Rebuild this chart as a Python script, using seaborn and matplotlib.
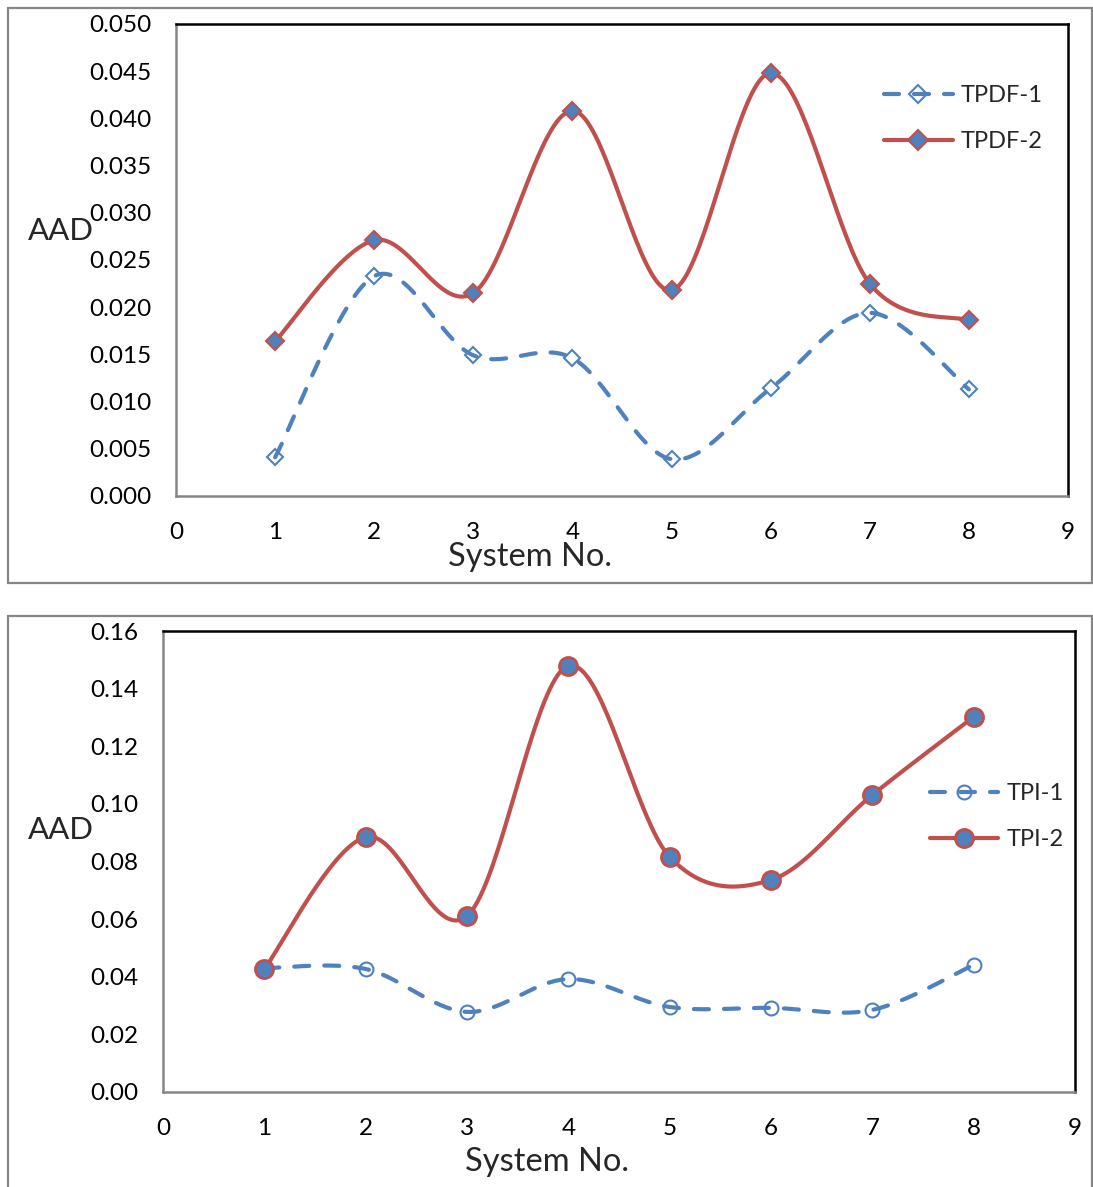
import numpy as np
import pandas as pd
import matplotlib
matplotlib.use("Agg")
import matplotlib.pyplot as plt
from matplotlib.patches import Rectangle
from matplotlib.lines import Line2D
import seaborn as sns

# ---- data ----
systems = [1, 2, 3, 4, 5, 6, 7, 8]
tpdf_1 = [0.0041, 0.0233, 0.0149, 0.0146, 0.0039, 0.0114, 0.0194, 0.0113]
tpdf_2 = [0.0164, 0.0271, 0.0215, 0.0408, 0.0218, 0.0448, 0.0225, 0.0186]
tpi_1 = [0.0430, 0.0427, 0.0278, 0.0392, 0.0295, 0.0292, 0.0285, 0.0441]
tpi_2 = [0.0427, 0.0885, 0.0611, 0.1479, 0.0816, 0.0736, 0.1031, 0.1302]

x_ticks = [0, 1, 2, 3, 4, 5, 6, 7, 8, 9]
top_yticks = [0.000, 0.005, 0.010, 0.015, 0.020, 0.025, 0.030, 0.035, 0.040, 0.045, 0.050]
bot_yticks = [0.00, 0.02, 0.04, 0.06, 0.08, 0.10, 0.12, 0.14, 0.16]

BLUE = "#4F81BD"
RED = "#C0504D"
GRAY = "#868686"
DASH = (0, (3.6, 3.6))

sns.set_theme(style="white")
plt.rcParams["font.family"] = ["Lato", "DejaVu Sans"]


def smooth_curve(xs, ys, n=40):
    """Cubic Bezier smoothing through every point (Catmull-Rom style control points)."""
    p = np.column_stack([xs, ys]).astype(float)
    ext = np.vstack([p[0], p, p[-1]])
    out = []
    t = np.linspace(0, 1, n)[:, None]
    for i in range(len(p) - 1):
        p0, p1, p2, p3 = ext[i], ext[i + 1], ext[i + 2], ext[i + 3]
        c1 = p1 + (p2 - p0) / 6.0
        c2 = p2 - (p3 - p1) / 6.0
        seg = ((1 - t) ** 3) * p1 + 3 * ((1 - t) ** 2) * t * c1 + 3 * (1 - t) * t ** 2 * c2 + t ** 3 * p2
        out.append(seg if i == 0 else seg[1:])
    seg = np.vstack(out)
    return seg[:, 0], seg[:, 1]


def draw_series(ax, ys, color, dashed, marker, msize, face, edge, mew):
    cx, cy = smooth_curve(systems, ys)
    df = pd.DataFrame({"x": cx, "y": cy})
    ls = DASH if dashed else "-"
    sns.lineplot(data=df, x="x", y="y", ax=ax, color=color, lw=3,
                 sort=False, estimator=None, linestyle=ls,
                 dash_capstyle="round", solid_capstyle="round")
    ax.plot(systems, ys, linestyle="none", marker=marker, markersize=msize,
            markerfacecolor=face, markeredgecolor=edge, markeredgewidth=mew, zorder=5)


def style_axes(ax, yticks, fmt):
    ax.set_xlim(0, 9)
    ax.set_ylim(yticks[0], yticks[-1])
    ax.set_xticks(x_ticks)
    ax.set_yticks(yticks)
    ax.set_yticklabels([fmt.format(v) for v in yticks])
    ax.set_xlabel("")
    ax.set_ylabel("")
    ax.grid(False)
    for side in ("left", "bottom"):
        ax.spines[side].set_color(GRAY)
        ax.spines[side].set_linewidth(1.8)
    for side in ("top", "right"):
        ax.spines[side].set_color("black")
        ax.spines[side].set_linewidth(1.8)
    ax.tick_params(axis="both", which="major", direction="out", length=7, width=1.5,
                   color=GRAY, labelsize=17.5, labelcolor="black")
    ax.tick_params(axis="x", pad=12)
    ax.tick_params(axis="y", pad=11)
    ax.set_facecolor("white")


fig = plt.figure(figsize=(10.93, 11.87), dpi=100)
fig.patch.set_facecolor("white")

W, H = 1093.0, 1187.0
# panel frames
fig.add_artist(Rectangle((8 / W, 1 - 583 / H), 1084 / W, 575 / H, transform=fig.transFigure,
                         fill=False, edgecolor=GRAY, lw=1.6))
fig.add_artist(Rectangle((8 / W, -0.01), 1084 / W, 1 - 616 / H + 0.01, transform=fig.transFigure,
                         fill=False, edgecolor=GRAY, lw=1.6))

ax1 = fig.add_axes([176 / W, 1 - 496 / H, (1068 - 176) / W, (496 - 24) / H])
ax2 = fig.add_axes([163 / W, 1 - 1092 / H, (1075 - 163) / W, (1092 - 631) / H])

legend_kw = dict(loc="center left", frameon=False, fontsize=17, handlelength=2.9,
                 handletextpad=0.35, labelspacing=1.05, borderaxespad=0, borderpad=0)

# top panel
draw_series(ax1, tpdf_1, BLUE, True, "D", 8, "none", BLUE, 1.5)
draw_series(ax1, tpdf_2, RED, False, "D", 9, BLUE, RED, 1.5)
style_axes(ax1, top_yticks, "{:.3f}")
h1 = [Line2D([], [], color=BLUE, lw=3, linestyle=DASH, dash_capstyle="round", marker="D",
             markersize=9, markerfacecolor="none", markeredgecolor=BLUE, markeredgewidth=1.5),
      Line2D([], [], color=RED, lw=3, marker="D", markersize=10,
             markerfacecolor=BLUE, markeredgecolor=RED, markeredgewidth=1.5)]
ax1.legend(h1, ["TPDF-1", "TPDF-2"], bbox_to_anchor=(0.794, 0.799), **legend_kw)

# bottom panel
draw_series(ax2, tpi_1, BLUE, True, "o", 10, "none", BLUE, 1.5)
draw_series(ax2, tpi_2, RED, False, "o", 13, BLUE, RED, 2.0)
style_axes(ax2, bot_yticks, "{:.2f}")
h2 = [Line2D([], [], color=BLUE, lw=3, linestyle=DASH, dash_capstyle="round", marker="o",
             markersize=10, markerfacecolor="none", markeredgecolor=BLUE, markeredgewidth=1.5),
      Line2D([], [], color=RED, lw=3, marker="o", markersize=13,
             markerfacecolor=BLUE, markeredgecolor=RED, markeredgewidth=2.0)]
ax2.legend(h2, ["TPI-1", "TPI-2"], bbox_to_anchor=(0.841, 0.597), **legend_kw)

# axis titles
fig.text(28 / W, 1 - 231 / H, "AAD", fontsize=22.5, ha="left", va="center")
fig.text(530 / W, 1 - 557 / H, "System No.", fontsize=23.5, ha="center", va="center")
fig.text(28 / W, 1 - 830 / H, "AAD", fontsize=22.5, ha="left", va="center")
fig.text(547 / W, 1 - 1162 / H, "System No.", fontsize=23.5, ha="center", va="center")

fig.savefig("out.png", dpi=100, facecolor="white")
